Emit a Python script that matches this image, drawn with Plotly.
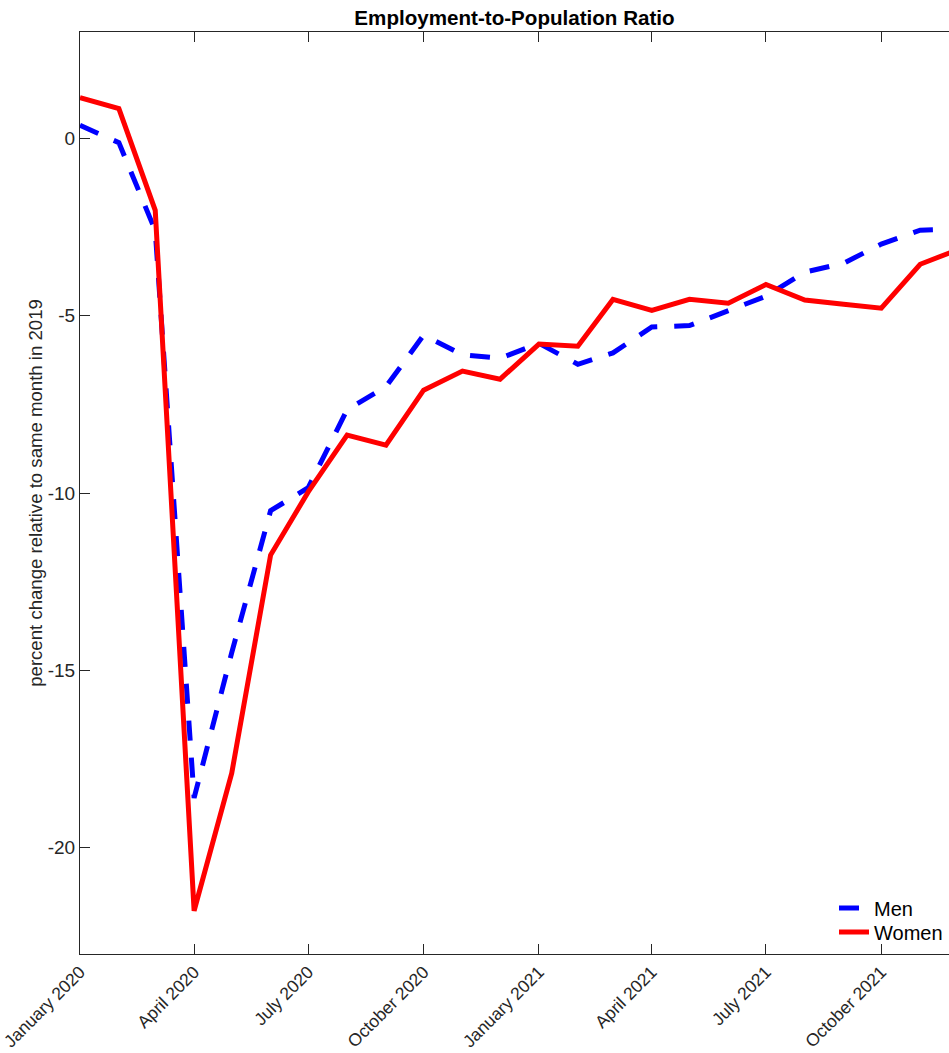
import plotly.graph_objects as go

months = ["2020-01-01", "2020-02-01", "2020-03-01", "2020-04-01", "2020-05-01", "2020-06-01",
          "2020-07-01", "2020-08-01", "2020-09-01", "2020-10-01", "2020-11-01", "2020-12-01",
          "2021-01-01", "2021-02-01", "2021-03-01", "2021-04-01", "2021-05-01", "2021-06-01",
          "2021-07-01", "2021-08-01", "2021-09-01", "2021-10-01", "2021-11-01", "2021-12-01"]

men = [0.37, -0.12, -2.6, -18.6, -14.5, -10.5, -9.85, -7.65, -7.0, -5.55, -6.1, -6.2,
       -5.78, -6.37, -6.05, -5.32, -5.28, -4.85, -4.45, -3.77, -3.52, -2.98, -2.59, -2.56]

women = [1.15, 0.84, -2.03, -21.78, -17.9, -11.75, -9.97, -8.37, -8.65, -7.1, -6.56, -6.79,
         -5.8, -5.86, -4.54, -4.85, -4.54, -4.65, -4.12, -4.56, -4.68, -4.79, -3.55, -3.14]

x_tick_vals = ["2020-01-01", "2020-04-01", "2020-07-01", "2020-10-01",
               "2021-01-01", "2021-04-01", "2021-07-01", "2021-10-01"]
x_tick_text = ["January 2020", "April 2020", "July 2020", "October 2020",
               "January 2021", "April 2021", "July 2021", "October 2021"]

y_tick_vals = [-20, -15, -10, -5, 0]
y_tick_text = ["-20", "-15", "-10", "-5", "0"]

FONT = "Liberation Sans, Arial, Helvetica, sans-serif"
AX = "#262626"

# plot area spans page x 80..949, y 32..954 (body margin removed below)
W, H = 949, 1053
L, T = 80, 32
B = H - 954
PLOT_W = W - L
PLOT_H = H - T - B

fig = go.Figure()
fig.add_trace(go.Scatter(x=months, y=men, mode="lines", name="Men", legend="legend",
                         line=dict(color="#0000ff", width=5, dash="20px,17px")))
fig.add_trace(go.Scatter(x=months, y=women, mode="lines", name="Women", legend="legend2",
                         line=dict(color="#ff0000", width=5)))

leg_x = (834 - L) / PLOT_W


def leg(y_page):
    return dict(x=leg_x, xanchor="left", y=(954 - y_page) / PLOT_H, yanchor="middle",
                font=dict(family=FONT, size=20, color="#000000"),
                bgcolor="rgba(255,255,255,0)", borderwidth=0, itemwidth=30)


fig.update_layout(
    width=W, height=H,
    margin=dict(l=L, r=0, t=T, b=B, autoexpand=False),
    paper_bgcolor="white", plot_bgcolor="white",
    font=dict(family=FONT, size=19, color=AX),
    title=dict(text="<b>Employment-to-Population Ratio</b>",
               font=dict(family=FONT, size=20.6, color="#000000"),
               x=0.5, xref="paper", xanchor="center",
               y=1 - 18 / H, yref="container", yanchor="middle"),
    showlegend=True,
    legend=leg(908),
    legend2=leg(932),
)

fig.update_xaxes(
    type="date", range=["2020-01-01", "2021-11-24"], automargin=False,
    tickvals=x_tick_vals, ticktext=x_tick_text, tickangle=-45,
    ticklabeloverflow="allow",
    ticks="inside", ticklen=10, tickcolor=AX, tickwidth=1,
    showline=True, linecolor=AX, linewidth=1, mirror="ticks",
    showgrid=False, zeroline=False,
    tickfont=dict(family=FONT, size=17.5, color=AX),
)
fig.update_yaxes(
    range=[-23, 3], automargin=False, tickvals=y_tick_vals, ticktext=y_tick_text,
    ticks="inside", ticklen=10, tickcolor=AX, tickwidth=1,
    showline=True, linecolor=AX, linewidth=1, mirror=False,
    showgrid=False, zeroline=False,
    tickfont=dict(family=FONT, size=19, color=AX),
    title=dict(text="percent change relative to same month in 2019",
               font=dict(family=FONT, size=18.6, color=AX), standoff=0),
)

fig.write_html(
    "out.html",
    config={"displayModeBar": False},
    post_script="document.body.style.margin='0';document.body.style.overflow='hidden';",
)
